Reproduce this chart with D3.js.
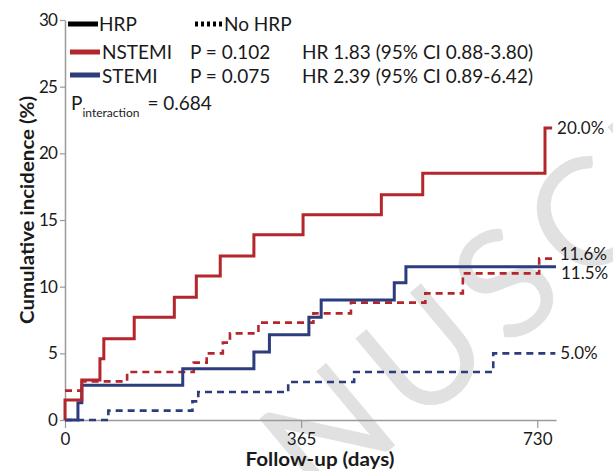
<!DOCTYPE html>
<html><head><meta charset="utf-8">
<script src="https://cdn.jsdelivr.net/npm/d3@7"></script>
<style>
html,body{margin:0;padding:0;background:#fff;}
svg{display:block;}
text{font-family:Lato,"Open Sans",sans-serif;fill:#1a1a1a;}
</style></head>
<body><svg id="c" width="613" height="471"></svg>
<script>
// ---- data (day, cumulative incidence %) ----
const xTicks = [0, 365, 730];
const yTicks = [0, 5, 10, 15, 20, 25, 30];
const nstemiHRP = [[0,0],[0,1.5],[26,3.0],[54,4.6],[60,6.1],[107,7.7],[169,9.2],[203,10.8],[240,12.3],[292,13.9],[368,15.4],[489,16.9],[553,18.5],[742,21.9],[753,21.9]];
const stemiHRP = [[0,0],[20,1.3],[26,2.6],[182,3.85],[292,5.1],[316,6.4],[377,7.7],[396,9.0],[509,10.3],[527,11.5],[759,11.5]];
const nstemiNoHRP = [[0,2.2],[26,2.9],[96,3.6],[199,4.3],[219,5.0],[244,5.8],[255,6.5],[299,7.3],[384,8.0],[442,8.8],[557,9.5],[615,11.0],[733,12.1],[757,12.1]];
const stemiNoHRP = [[0,0],[67,0.7],[197,1.4],[206,2.1],[345,2.85],[447,3.6],[662,5.0],[758,5.0]];
const endLabels = ["20.0%", "11.6%", "11.5%", "5.0%"];
const legendRows = [
  ["NSTEMI", "P = 0.102", "HR 1.83 (95% CI 0.88-3.80)"],
  ["STEMI", "P = 0.075", "HR 2.39 (95% CI 0.89-6.42)"]
];
const pInteraction = "0.684";

const RED = "#b3262c", BLUE = "#2d3c7d";
const svg = d3.select("#c");

// watermark
svg.append("text").attr("transform","translate(318,510) rotate(-40)")
  .attr("font-size",150).attr("font-family","Lato, sans-serif").attr("font-weight",400)
  .attr("letter-spacing",12)
  .style("fill","#dcdcdc").style("fill-opacity",0.85)
  .text("NUSCRIPT");

const x = d3.scaleLinear().domain([0, 759]).range([65, 556]);
const y = d3.scaleLinear().domain([0, 30]).range([420, 20]);

// axes
const gx = svg.append("g").attr("transform","translate(0,420)")
  .call(d3.axisBottom(x).tickValues(xTicks).tickSize(8).tickSizeOuter(0).tickPadding(5));
const gy = svg.append("g").attr("transform","translate(65,0)")
  .call(d3.axisLeft(y).tickValues(yTicks).tickSize(5).tickSizeOuter(0).tickPadding(3));
[gx, gy].forEach(g => {
  g.select(".domain").attr("stroke","#9a9a9a").attr("stroke-width",1.5);
  g.selectAll(".tick line").attr("stroke","#9a9a9a").attr("stroke-width",1.2);
  g.selectAll(".tick text").attr("font-size",17).attr("font-family","Lato, sans-serif").style("fill","#1a1a1a");
});
gy.selectAll(".tick text").attr("letter-spacing",-0.8);

svg.append("text").attr("x",320).attr("y",466).attr("text-anchor","middle")
  .attr("font-size",18).attr("font-weight","bold")
  .attr("textLength",149).attr("lengthAdjust","spacingAndGlyphs").text("Follow-up (days)");
svg.append("text").attr("transform","translate(34,210) rotate(-90)").attr("text-anchor","middle")
  .attr("font-size",18).attr("font-weight","bold")
  .attr("textLength",228).attr("lengthAdjust","spacingAndGlyphs").text("Cumulative incidence (%)");

// curves
const line = d3.line().x(d => x(d[0])).y(d => y(d[1])).curve(d3.curveStepAfter);
function draw(data, color, dashed){
  svg.append("path").datum(data).attr("d", line).attr("fill","none")
    .attr("stroke", color).attr("stroke-width", dashed ? 2.6 : 3)
    .attr("stroke-dasharray", dashed ? "7,5" : null);
}
draw(stemiNoHRP, BLUE, true);
draw(nstemiNoHRP, RED, true);
draw(stemiHRP, BLUE, false);
draw(nstemiHRP, RED, false);

// end labels
const lastVal = a => a[a.length-1];
const ends = [
  [nstemiHRP, endLabels[0], 0],
  [nstemiNoHRP, endLabels[1], -5],
  [stemiHRP, endLabels[2], 6],
  [stemiNoHRP, endLabels[3], 0]
];
ends.forEach(([a, t, dy]) => {
  svg.append("text").attr("x", x(lastVal(a)[0]) + 5).attr("y", y(lastVal(a)[1]) + dy)
    .attr("dy","0.35em").attr("font-size",17).text(t);
});

// legend
const fs = 19;
svg.append("line").attr("x1",68).attr("x2",98).attr("y1",24).attr("y2",24).attr("stroke","#000").attr("stroke-width",5);
svg.append("text").attr("x",99).attr("y",31).attr("font-size",fs).text("HRP");
svg.append("line").attr("x1",195).attr("x2",222).attr("y1",24).attr("y2",24).attr("stroke","#000").attr("stroke-width",5).attr("stroke-dasharray","3,3");
svg.append("text").attr("x",224).attr("y",31).attr("font-size",fs).text("No HRP");
legendRows.forEach((r, i) => {
  const yy = 52 + i*23;
  const by = 59 + i*24;
  svg.append("line").attr("x1",70).attr("x2",100).attr("y1",yy).attr("y2",yy).attr("stroke", i===0?RED:BLUE).attr("stroke-width",5);
  svg.append("text").attr("x",102).attr("y",by).attr("font-size",fs).text(r[0]);
  svg.append("text").attr("x",190).attr("y",by).attr("font-size",fs).text(r[1]);
  svg.append("text").attr("x",302).attr("y",by).attr("font-size",fs).text(r[2]);
});
const pt = svg.append("text").attr("x",71).attr("y",110).attr("font-size",fs);
pt.append("tspan").text("P");
pt.append("tspan").attr("font-size",12).attr("dy",7).text("interaction");
pt.append("tspan").attr("dy",-7).attr("dx",8).text("= " + pInteraction);
</script></body></html>
